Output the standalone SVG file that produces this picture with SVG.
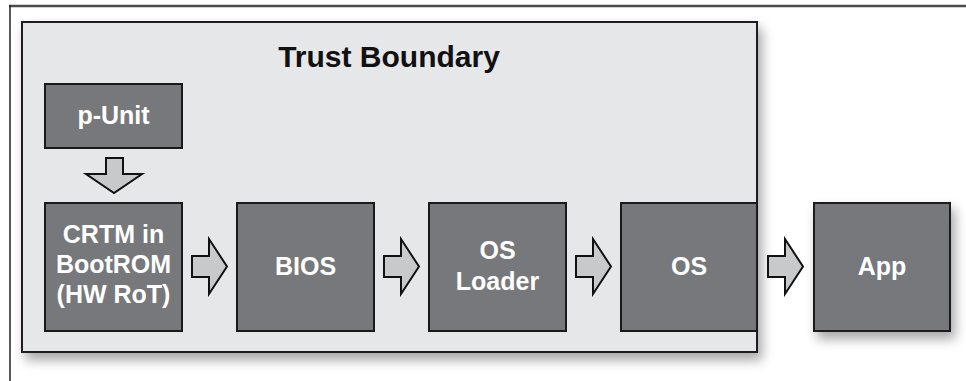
<svg xmlns="http://www.w3.org/2000/svg" width="966" height="381" viewBox="0 0 966 381">
<defs>
<filter id="sh" x="-10%" y="-10%" width="130%" height="135%">
<feDropShadow dx="4" dy="7" stdDeviation="6" flood-color="#000" flood-opacity="0.35"/>
</filter>
<style>
.box{fill:#77787b;stroke:#1a1a1a;stroke-width:2}
.lbl{font-family:"Liberation Sans",Arial,sans-serif;font-weight:bold;font-size:25px;fill:#fff;text-anchor:middle}
.arr{fill:#c8c9ca;stroke:#111;stroke-width:2;stroke-linejoin:miter}
</style>
</defs>
<rect width="966" height="381" fill="#fff"/>
<g id="frame">
<line x1="9" y1="6" x2="966" y2="6" stroke="#4d4d4d" stroke-width="2.5"/>
<line x1="10" y1="5" x2="10" y2="381" stroke="#222" stroke-width="1.5"/>
</g>
<g id="trust-boundary">
<rect x="22" y="22" width="735" height="330" fill="#e6e7e8" stroke="#231f20" stroke-width="2" filter="url(#sh)"/>
<text x="389" y="67" font-family="Liberation Sans,Arial,sans-serif" font-weight="bold" font-size="30" fill="#111" text-anchor="middle">Trust Boundary</text>
</g>
<g id="p-unit">
<rect class="box" x="45" y="84" width="137" height="64"/>
<text class="lbl" x="113.5" y="124">p-Unit</text>
</g>
<g id="crtm">
<rect class="box" x="45" y="203" width="137" height="128"/>
<text class="lbl" x="113.5" y="243">CRTM in</text>
<text class="lbl" x="113.5" y="273">BootROM</text>
<text class="lbl" x="113.5" y="303">(HW RoT)</text>
</g>
<g id="bios">
<rect class="box" x="237" y="203" width="137" height="128"/>
<text class="lbl" x="305.5" y="275">BIOS</text>
</g>
<g id="os-loader">
<rect class="box" x="429" y="203" width="137" height="128"/>
<text class="lbl" x="497.5" y="259">OS</text>
<text class="lbl" x="497.5" y="290">Loader</text>
</g>
<g id="os">
<rect class="box" x="621" y="203" width="136" height="128"/>
<text class="lbl" x="689" y="275">OS</text>
</g>
<g id="app">
<rect class="box" x="814" y="203" width="136" height="128" filter="url(#sh)"/>
<text class="lbl" x="882" y="275">App</text>
</g>
<g id="connectors">
<polygon class="arr" points="106,158 123,158 123,174 142,174 114,193 86,174 106,174"/>
<polygon class="arr" points="192,256 209,256 209,239 227,266.5 209,294 209,277 192,277"/>
<polygon class="arr" points="384,256 401,256 401,239 419,266.5 401,294 401,277 384,277"/>
<polygon class="arr" points="576,256 593,256 593,239 611,266.5 593,294 593,277 576,277"/>
<polygon class="arr" points="768,256 785,256 785,239 803,266.5 785,294 785,277 768,277"/>
</g>
</svg>
